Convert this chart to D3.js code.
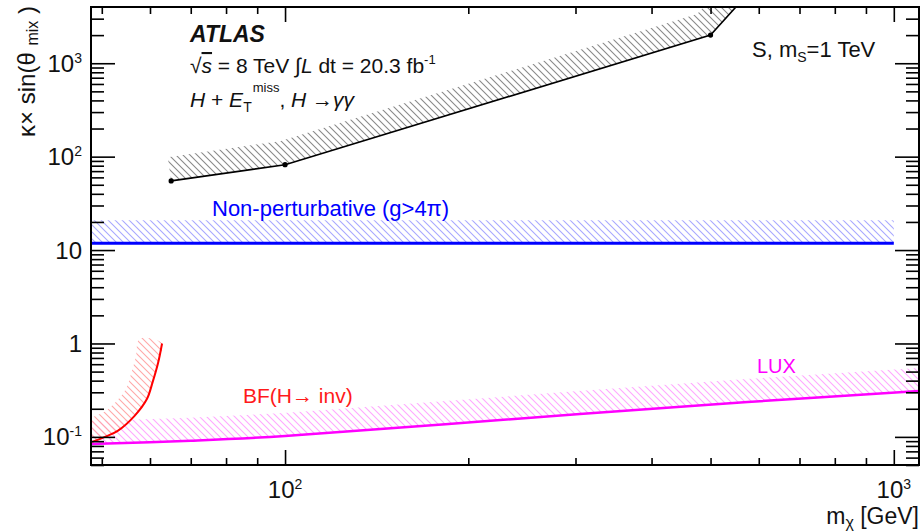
<!DOCTYPE html>
<html>
<head>
<meta charset="utf-8">
<script src="https://cdn.jsdelivr.net/npm/d3@7"></script>
<style>
body { margin: 0; background: #fff; }
text { font-family: "Liberation Sans", Arial, Helvetica, sans-serif; fill: #111; }
</style>
</head>
<body>
<div id="chart"></div>
<script>
// values
var atlasMass = [65, 100, 500, 1000];
var atlasKappa = [55, 82, 2000, 300000];
var npMass = [48, 1000];
var npKappa = [11.8, 11.8];
var bfMass = [48.2, 50.6, 53.1, 56.6, 59.3, 60.6, 61.9, 62.8];
var bfKappa = [0.0885, 0.100, 0.116, 0.168, 0.254, 0.386, 0.63, 1.0];
var luxMass = [48, 70, 100, 305, 575, 1100];
var luxKappa = [0.084, 0.091, 0.102, 0.176, 0.236, 0.31];
var xTickValues = [100, 1000];
var xTickLabels = [["10", "2"], ["10", "3"]];
var yTickValues = [0.1, 1, 10, 100, 1000];
var yTickLabels = [["10", "-1"], ["1", ""], ["10", ""], ["10", "2"], ["10", "3"]];

var margin = {top: 7, right: 4, bottom: 67, left: 91},
    W = 923, H = 532,
    width = W - margin.left - margin.right,
    height = H - margin.top - margin.bottom;

var x = d3.scaleLog().domain([48, 1100]).range([margin.left, margin.left + width]);
var y = d3.scaleLog().domain([0.05, 4000]).range([margin.top + height, margin.top]);

var svg = d3.select("#chart").append("svg")
    .attr("width", W)
    .attr("height", H);

var defs = svg.append("defs");
defs.append("clipPath").attr("id", "plotclip")
  .append("rect")
    .attr("x", margin.left).attr("y", margin.top)
    .attr("width", width).attr("height", height);

// "\" hatching like ROOT fill style
function hatch(id, color) {
  defs.append("pattern")
      .attr("id", id)
      .attr("patternUnits", "userSpaceOnUse")
      .attr("width", 7).attr("height", 7)
    .append("path")
      .attr("d", "M-1,6l2,2M0,0l7,7M6,-1l2,2")
      .attr("stroke", color)
      .attr("stroke-width", 1.1);
}
hatch("hBlack", "#8a8a8a");
hatch("hBlue", "#a8a8ff");
hatch("hRed", "#ffa8a8");
hatch("hMag", "#ffa8ff");

function toPts(xs, ys) {
  return xs.map(function(m, i) { return [x(m), y(ys[i])]; });
}

// shift a polyline sideways (screen space) to get the hatched excluded side
function offset(pts, d) {
  var segN = [];
  for (var i = 0; i < pts.length - 1; i++) {
    var dx = pts[i + 1][0] - pts[i][0], dy = pts[i + 1][1] - pts[i][1], l = Math.hypot(dx, dy);
    segN.push([dy / l, -dx / l]);
  }
  return pts.map(function(p, i) {
    var a = segN[Math.max(i - 1, 0)], b = segN[Math.min(i, segN.length - 1)];
    var nx = a[0] + b[0], ny = a[1] + b[1], nl = Math.hypot(nx, ny);
    nx /= nl; ny /= nl;
    var k = d / (nx * a[0] + ny * a[1]);
    return [p[0] + nx * k, p[1] + ny * k];
  });
}
function band(pts, d) { return pts.concat(offset(pts, d).reverse()); }

var plot = svg.append("g").attr("clip-path", "url(#plotclip)");

var atlasPts = toPts(atlasMass, atlasKappa),
    npPts = toPts(npMass, npKappa),
    bfPts = toPts(bfMass, bfKappa),
    luxPts = toPts(luxMass, luxKappa);

var poly = d3.line();
var smooth = d3.line().curve(d3.curveCatmullRom.alpha(0.5));

// hatched bands
plot.append("path").attr("d", poly(band(atlasPts, 24)) + "Z").attr("fill", "url(#hBlack)");
plot.append("path").attr("d", poly(band(npPts, 23)) + "Z").attr("fill", "url(#hBlue)");
plot.append("path").attr("d", poly(band(luxPts, 23)) + "Z").attr("fill", "url(#hMag)");
plot.append("path").attr("d", smooth(band(bfPts, 23)) + "Z").attr("fill", "url(#hRed)");

// limit lines
plot.append("path").attr("d", poly(npPts))
    .attr("fill", "none").attr("stroke", "#0000ff").attr("stroke-width", 3);
plot.append("path").attr("d", smooth(luxPts))
    .attr("fill", "none").attr("stroke", "#ff00ff").attr("stroke-width", 2.5);
plot.append("path").attr("d", smooth(bfPts))
    .attr("fill", "none").attr("stroke", "#ff0000").attr("stroke-width", 2);
plot.append("path").attr("d", poly(atlasPts))
    .attr("fill", "none").attr("stroke", "#000").attr("stroke-width", 1.6);
plot.selectAll("circle.pt")
    .data(atlasPts)
  .enter().append("circle")
    .attr("class", "pt")
    .attr("cx", function(d) { return d[0]; })
    .attr("cy", function(d) { return d[1]; })
    .attr("r", 2.6)
    .attr("fill", "#000");

// ticks, inward on all four sides
var xMinor = x.ticks().filter(function(v) { return xTickValues.indexOf(v) < 0; });
var yMinor = y.ticks().filter(function(v) { return yTickValues.map(String).indexOf(String(v)) < 0 && v < 4000; });

function ticks(axis, vals, size, tr) {
  var g = svg.append("g")
      .attr("transform", tr)
      .call(axis.tickValues(vals).tickSize(-size).tickFormat(""));
  g.select(".domain").remove();
  g.selectAll("line").attr("stroke", "#000").attr("stroke-width", 1.6);
}
var bottomY = margin.top + height, rightX = margin.left + width;
ticks(d3.axisBottom(x), xTickValues, 15, "translate(0," + bottomY + ")");
ticks(d3.axisBottom(x), xMinor, 7, "translate(0," + bottomY + ")");
ticks(d3.axisTop(x), xTickValues, 15, "translate(0," + margin.top + ")");
ticks(d3.axisTop(x), xMinor, 7, "translate(0," + margin.top + ")");
ticks(d3.axisLeft(y), yTickValues, 24, "translate(" + margin.left + ",0)");
ticks(d3.axisLeft(y), yMinor, 13, "translate(" + margin.left + ",0)");
ticks(d3.axisRight(y), yTickValues, 24, "translate(" + rightX + ",0)");
ticks(d3.axisRight(y), yMinor, 13, "translate(" + rightX + ",0)");

// frame
svg.append("rect")
    .attr("x", margin.left).attr("y", margin.top)
    .attr("width", width).attr("height", height)
    .attr("fill", "none").attr("stroke", "#000").attr("stroke-width", 2);

// tick labels
yTickValues.forEach(function(v, i) {
  var t = svg.append("text")
      .attr("x", 82).attr("y", y(v) + 8.5)
      .attr("text-anchor", "end")
      .style("font-size", "24px");
  t.append("tspan").text(yTickLabels[i][0]);
  if (yTickLabels[i][1]) t.append("tspan").attr("dy", -9).style("font-size", "14px").text(yTickLabels[i][1]);
});
xTickValues.forEach(function(v, i) {
  var t = svg.append("text")
      .attr("x", x(v)).attr("y", 498)
      .attr("text-anchor", "middle")
      .style("font-size", "24px");
  t.append("tspan").text(xTickLabels[i][0]);
  t.append("tspan").attr("dy", -9).style("font-size", "14px").text(xTickLabels[i][1]);
});

// axis titles
var xt = svg.append("text")
    .attr("x", rightX).attr("y", 524)
    .attr("text-anchor", "end")
    .style("font-size", "23px");
xt.append("tspan").text("m");
xt.append("tspan").attr("dy", 4).style("font-size", "16px").text("χ");
xt.append("tspan").attr("dy", -4).text(" [GeV]");

var yt = svg.append("text")
    .attr("transform", "translate(35,6) rotate(-90)")
    .attr("text-anchor", "end")
    .style("font-size", "24px");
yt.append("tspan").text("κ× sin(θ ");
yt.append("tspan").attr("dy", 3).style("font-size", "16px").text("mix");
yt.append("tspan").attr("dy", -3).text(" )");

// annotations
svg.append("text")
    .attr("x", 190).attr("y", 42)
    .style("font-size", "23px").style("font-weight", "bold").style("font-style", "italic")
    .text("ATLAS");

var t2 = svg.append("text").attr("x", 190).attr("y", 73).style("font-size", "21px");
t2.append("tspan").text("√");
t2.append("tspan").style("font-style", "italic").style("text-decoration", "overline").text("s");
t2.append("tspan").text(" = 8 TeV ∫");
t2.append("tspan").style("font-style", "italic").text("L");
t2.append("tspan").text(" dt = 20.3 fb");
t2.append("tspan").attr("dy", -9).style("font-size", "13px").text("-1");

var t3 = svg.append("text").attr("x", 190).attr("y", 107).style("font-size", "21px");
t3.append("tspan").style("font-style", "italic").text("H");
t3.append("tspan").text(" + ");
t3.append("tspan").style("font-style", "italic").text("E");
t3.append("tspan").attr("dy", 5).style("font-size", "14px").text("T");
t3.append("tspan").attr("dy", -20).attr("dx", 1).style("font-size", "13px").text("miss");
t3.append("tspan").attr("dy", 15).text(", ");
t3.append("tspan").style("font-style", "italic").text("H");
t3.append("tspan").text(" →");
t3.append("tspan").style("font-style", "italic").text("γγ");

var t4 = svg.append("text").attr("x", 752).attr("y", 57).style("font-size", "22px");
t4.append("tspan").text("S, m");
t4.append("tspan").attr("dy", 5).style("font-size", "14px").text("S");
t4.append("tspan").attr("dy", -5).text("=1 TeV");

svg.append("text")
    .attr("x", 212).attr("y", 216)
    .style("font-size", "22px").style("fill", "#0000ff")
    .text("Non-perturbative (g>4π)");
svg.append("text")
    .attr("x", 243).attr("y", 403)
    .style("font-size", "21px").style("fill", "#ff1a1a")
    .text("BF(H→ inv)");
svg.append("text")
    .attr("x", 757).attr("y", 373)
    .style("font-size", "20px").style("fill", "#ff00ff")
    .text("LUX");
</script>
</body>
</html>
